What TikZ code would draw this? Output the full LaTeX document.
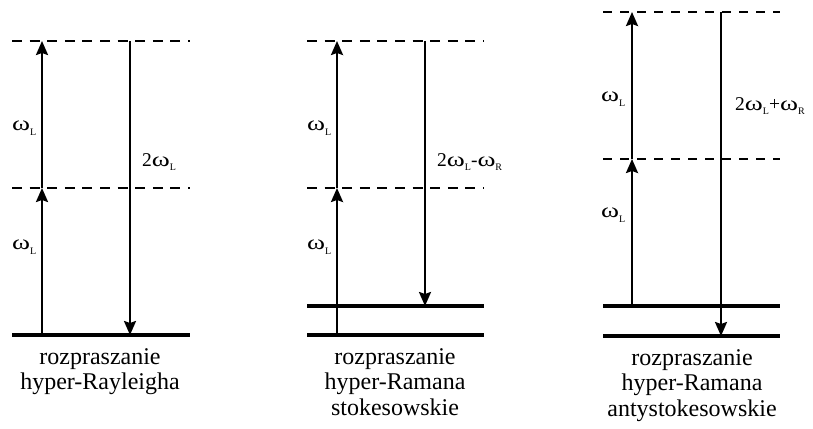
\documentclass[tikz,border=0pt]{standalone}
\usepackage{fontspec}
\setmainfont{Liberation Serif}
\newfontfamily\timesfont{Liberation Serif}
\usepackage{graphicx}
\usetikzlibrary{arrows.meta}
\newcommand{\omg}{\scalebox{1.4}[1.05]{ω}}
\newcommand{\subl}[1]{\raisebox{-4.5pt}{\fontsize{10}{10}\selectfont #1}}
\tikzset{
 enlevel/.style={line width=3.4pt},
 virt/.style={line width=2.8pt, dash pattern=on 10pt off 7.6pt},
 virtthin/.style={line width=1.8pt, dash pattern=on 9pt off 8pt},
 trans/.style={line width=2.3pt, -{Stealth[length=14pt,width=12pt,inset=2pt]}},
 lbl/.style={font=\timesfont\fontsize{19.5}{19.5}\selectfont, inner sep=0pt, anchor=west},
 captext/.style={font=\timesfont\fontsize{24}{25.5}\selectfont, align=center, anchor=north, inner sep=0pt},
}
\begin{document}
\begin{tikzpicture}[x=1pt,y=-1pt]
\useasboundingbox (0,0) rectangle (813,428);
% ---------- panel 1 ----------
\coordinate (A0l) at (12,335); \coordinate (A0r) at (190,335);
\coordinate (A1l) at (12,188); \coordinate (A1r) at (190,188);
\coordinate (A2l) at (12,41);  \coordinate (A2r) at (190,41);
\draw[enlevel] (A0l) -- (A0r);
\draw[virt] (A1l) -- (A1r);
\draw[virt] (A2l) -- (A2r);
\coordinate (Au0) at (42,335); \coordinate (Au1) at (42,188); \coordinate (Au2) at (42,41);
\coordinate (Ad0) at (130,41); \coordinate (Ad1) at (130,335);
\draw[trans] (Au0) -- (Au1);
\draw[trans] (Au1) -- (Au2);
\draw[trans] (Ad0) -- (Ad1);
\node[lbl] (AL1) at (12,128) {\omg\subl{L}};
\node[lbl] (AL2) at (12,247) {\omg\subl{L}};
\node[lbl] (AL3) at (142,162) {2\omg\subl{L}};
\node[captext] (AC) at (100,348) {rozpraszanie\\hyper-Rayleigha};
% ---------- panel 2 ----------
\coordinate (B0l) at (307,335); \coordinate (B0r) at (484,335);
\coordinate (Bvl) at (307,306); \coordinate (Bvr) at (484,306);
\coordinate (B1l) at (307,188); \coordinate (B1r) at (484,188);
\coordinate (B2l) at (307,41);  \coordinate (B2r) at (484,41);
\draw[enlevel] (B0l) -- (B0r);
\draw[enlevel] (Bvl) -- (Bvr);
\draw[virt] (B1l) -- (B1r);
\draw[virt] (B2l) -- (B2r);
\coordinate (Bu0) at (337,335); \coordinate (Bu1) at (337,188); \coordinate (Bu2) at (337,41);
\coordinate (Bd0) at (425,41); \coordinate (Bd1) at (425,306);
\draw[trans] (Bu0) -- (Bu1);
\draw[trans] (Bu1) -- (Bu2);
\draw[trans] (Bd0) -- (Bd1);
\node[lbl] (BL1) at (307,128) {\omg\subl{L}};
\node[lbl] (BL2) at (307,247) {\omg\subl{L}};
\node[lbl] (BL3) at (437,162) {2\omg\subl{L}-\omg\subl{R}};
\node[captext] (BC) at (395,348) {rozpraszanie\\hyper-Ramana\\stokesowskie};
% ---------- panel 3 ----------
\coordinate (C0l) at (603,336); \coordinate (C0r) at (780,336);
\coordinate (Cvl) at (603,306); \coordinate (Cvr) at (780,306);
\coordinate (C1l) at (603,159); \coordinate (C1r) at (780,159);
\coordinate (C2l) at (603,12);  \coordinate (C2r) at (780,12);
\draw[enlevel] (C0l) -- (C0r);
\draw[enlevel] (Cvl) -- (Cvr);
\draw[virtthin] (C1l) -- (C1r);
\draw[virtthin] (C2l) -- (C2r);
\coordinate (Cu0) at (632,306); \coordinate (Cu1) at (632,159); \coordinate (Cu2) at (632,12);
\coordinate (Cd0) at (721,12); \coordinate (Cd1) at (721,336);
\draw[trans] (Cu0) -- (Cu1);
\draw[trans] (Cu1) -- (Cu2);
\draw[trans] (Cd0) -- (Cd1);
\node[lbl] (CL1) at (601,99) {\omg\subl{L}};
\node[lbl] (CL2) at (601,215) {\omg\subl{L}};
\node[lbl] (CL3) at (735,106) {2\omg\subl{L}+\omg\subl{R}};
\node[captext] (CC) at (692,349) {rozpraszanie\\hyper-Ramana\\antystokesowskie};
\end{tikzpicture}
\end{document}
